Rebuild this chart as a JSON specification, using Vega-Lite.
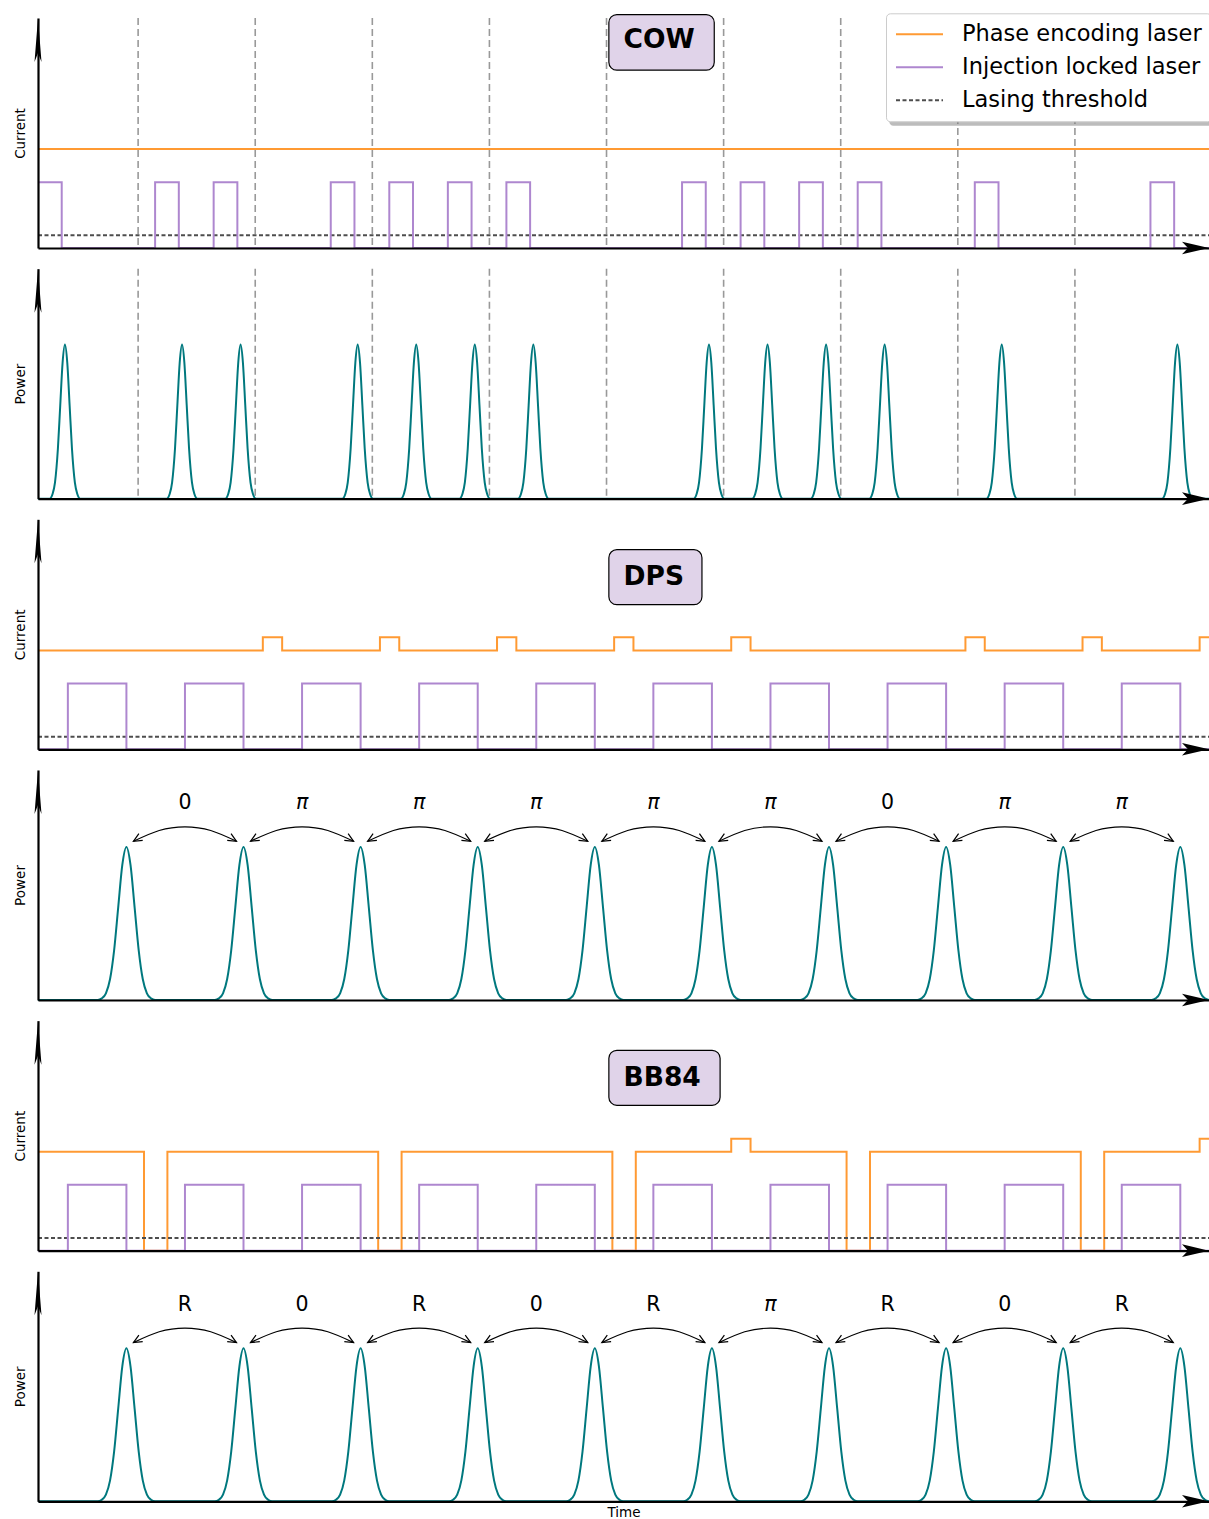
{
  "$schema": "https://vega.github.io/schema/vega-lite/v6.json",
  "padding": {"left": 13, "top": 12, "right": 0, "bottom": 0},
  "bounds": "flush",
  "spacing": 20.66,
  "config": {
    "view": {"stroke": null},
    "font": "DejaVu Sans",
    "axis": {"grid": false, "ticks": false, "labels": false, "domainColor": "black", "domainWidth": 2.2, "titleFont": "DejaVu Sans", "titleFontSize": 13.5, "titleFontWeight": "normal", "titleColor": "black", "titlePadding": 11, "zindex": 2},
    "axisX": {"titlePadding": 4}
  },
  "datasets": {
    "cow_dash": [{"t":1.71},{"t":3.71},{"t":5.71},{"t":7.71},{"t":9.71},{"t":11.71},{"t":13.71},{"t":15.71},{"t":17.71}],
    "cur_cow": [
      {"s":"Phase encoding laser","t":0,"v":0.43},{"s":"Phase encoding laser","t":20,"v":0.43},
      {"s":"Lasing threshold","t":0,"v":0.055},{"s":"Lasing threshold","t":20,"v":0.055},
      {"s":"Injection locked laser","t":0,"v":0.286},{"s":"Injection locked laser","t":0.405,"v":0},
      {"s":"Injection locked laser","t":2,"v":0.286},{"s":"Injection locked laser","t":2.405,"v":0},
      {"s":"Injection locked laser","t":3,"v":0.286},{"s":"Injection locked laser","t":3.405,"v":0},
      {"s":"Injection locked laser","t":5,"v":0.286},{"s":"Injection locked laser","t":5.405,"v":0},
      {"s":"Injection locked laser","t":6,"v":0.286},{"s":"Injection locked laser","t":6.405,"v":0},
      {"s":"Injection locked laser","t":7,"v":0.286},{"s":"Injection locked laser","t":7.405,"v":0},
      {"s":"Injection locked laser","t":8,"v":0.286},{"s":"Injection locked laser","t":8.405,"v":0},
      {"s":"Injection locked laser","t":11,"v":0.286},{"s":"Injection locked laser","t":11.405,"v":0},
      {"s":"Injection locked laser","t":12,"v":0.286},{"s":"Injection locked laser","t":12.405,"v":0},
      {"s":"Injection locked laser","t":13,"v":0.286},{"s":"Injection locked laser","t":13.405,"v":0},
      {"s":"Injection locked laser","t":14,"v":0.286},{"s":"Injection locked laser","t":14.405,"v":0},
      {"s":"Injection locked laser","t":16,"v":0.286},{"s":"Injection locked laser","t":16.405,"v":0},
      {"s":"Injection locked laser","t":19,"v":0.286},{"s":"Injection locked laser","t":19.405,"v":0},
      {"s":"Injection locked laser","t":20,"v":0}
    ],
    "cur_dps": [
      {"s":"Phase encoding laser","t":0,"v":0.43},{"s":"Phase encoding laser","t":3.84,"v":0.487},{"s":"Phase encoding laser","t":4.17,"v":0.43},
      {"s":"Phase encoding laser","t":5.84,"v":0.487},{"s":"Phase encoding laser","t":6.17,"v":0.43},
      {"s":"Phase encoding laser","t":7.84,"v":0.487},{"s":"Phase encoding laser","t":8.17,"v":0.43},
      {"s":"Phase encoding laser","t":9.84,"v":0.487},{"s":"Phase encoding laser","t":10.17,"v":0.43},
      {"s":"Phase encoding laser","t":11.84,"v":0.487},{"s":"Phase encoding laser","t":12.17,"v":0.43},
      {"s":"Phase encoding laser","t":15.84,"v":0.487},{"s":"Phase encoding laser","t":16.17,"v":0.43},
      {"s":"Phase encoding laser","t":17.84,"v":0.487},{"s":"Phase encoding laser","t":18.17,"v":0.43},
      {"s":"Phase encoding laser","t":19.84,"v":0.487},{"s":"Phase encoding laser","t":20,"v":0.487},
      {"s":"Lasing threshold","t":0,"v":0.055},{"s":"Lasing threshold","t":20,"v":0.055},
      {"s":"Injection locked laser","t":0,"v":0},
      {"s":"Injection locked laser","t":0.51,"v":0.286},{"s":"Injection locked laser","t":1.51,"v":0},
      {"s":"Injection locked laser","t":2.51,"v":0.286},{"s":"Injection locked laser","t":3.51,"v":0},
      {"s":"Injection locked laser","t":4.51,"v":0.286},{"s":"Injection locked laser","t":5.51,"v":0},
      {"s":"Injection locked laser","t":6.51,"v":0.286},{"s":"Injection locked laser","t":7.51,"v":0},
      {"s":"Injection locked laser","t":8.51,"v":0.286},{"s":"Injection locked laser","t":9.51,"v":0},
      {"s":"Injection locked laser","t":10.51,"v":0.286},{"s":"Injection locked laser","t":11.51,"v":0},
      {"s":"Injection locked laser","t":12.51,"v":0.286},{"s":"Injection locked laser","t":13.51,"v":0},
      {"s":"Injection locked laser","t":14.51,"v":0.286},{"s":"Injection locked laser","t":15.51,"v":0},
      {"s":"Injection locked laser","t":16.51,"v":0.286},{"s":"Injection locked laser","t":17.51,"v":0},
      {"s":"Injection locked laser","t":18.51,"v":0.286},{"s":"Injection locked laser","t":19.51,"v":0},
      {"s":"Injection locked laser","t":20,"v":0}
    ],
    "cur_bb": [
      {"s":"Phase encoding laser","t":0,"v":0.43},{"s":"Phase encoding laser","t":1.81,"v":0},{"s":"Phase encoding laser","t":2.21,"v":0.43},
      {"s":"Phase encoding laser","t":5.81,"v":0},{"s":"Phase encoding laser","t":6.21,"v":0.43},
      {"s":"Phase encoding laser","t":9.81,"v":0},{"s":"Phase encoding laser","t":10.21,"v":0.43},
      {"s":"Phase encoding laser","t":11.84,"v":0.487},{"s":"Phase encoding laser","t":12.17,"v":0.43},
      {"s":"Phase encoding laser","t":13.81,"v":0},{"s":"Phase encoding laser","t":14.21,"v":0.43},
      {"s":"Phase encoding laser","t":17.81,"v":0},{"s":"Phase encoding laser","t":18.21,"v":0.43},
      {"s":"Phase encoding laser","t":19.84,"v":0.487},{"s":"Phase encoding laser","t":20,"v":0.487},
      {"s":"Lasing threshold","t":0,"v":0.055},{"s":"Lasing threshold","t":20,"v":0.055},
      {"s":"Injection locked laser","t":0,"v":0},
      {"s":"Injection locked laser","t":0.51,"v":0.286},{"s":"Injection locked laser","t":1.51,"v":0},
      {"s":"Injection locked laser","t":2.51,"v":0.286},{"s":"Injection locked laser","t":3.51,"v":0},
      {"s":"Injection locked laser","t":4.51,"v":0.286},{"s":"Injection locked laser","t":5.51,"v":0},
      {"s":"Injection locked laser","t":6.51,"v":0.286},{"s":"Injection locked laser","t":7.51,"v":0},
      {"s":"Injection locked laser","t":8.51,"v":0.286},{"s":"Injection locked laser","t":9.51,"v":0},
      {"s":"Injection locked laser","t":10.51,"v":0.286},{"s":"Injection locked laser","t":11.51,"v":0},
      {"s":"Injection locked laser","t":12.51,"v":0.286},{"s":"Injection locked laser","t":13.51,"v":0},
      {"s":"Injection locked laser","t":14.51,"v":0.286},{"s":"Injection locked laser","t":15.51,"v":0},
      {"s":"Injection locked laser","t":16.51,"v":0.286},{"s":"Injection locked laser","t":17.51,"v":0},
      {"s":"Injection locked laser","t":18.51,"v":0.286},{"s":"Injection locked laser","t":19.51,"v":0},
      {"s":"Injection locked laser","t":20,"v":0}
    ],
    "cow_pow": [
      {"t":0,"v":0},
      {"t":0.2,"v":0},{"t":0.25,"v":0.021},{"t":0.29,"v":0.07},{"t":0.34,"v":0.218},{"t":0.38,"v":0.406},{"t":0.42,"v":0.591},{"t":0.46,"v":0.67},{"t":0.5,"v":0.591},{"t":0.54,"v":0.406},{"t":0.58,"v":0.218},{"t":0.63,"v":0.07},{"t":0.67,"v":0.021},{"t":0.72,"v":0},
      {"t":2.2,"v":0},{"t":2.25,"v":0.021},{"t":2.29,"v":0.07},{"t":2.34,"v":0.218},{"t":2.38,"v":0.406},{"t":2.42,"v":0.591},{"t":2.46,"v":0.67},{"t":2.5,"v":0.591},{"t":2.54,"v":0.406},{"t":2.58,"v":0.218},{"t":2.63,"v":0.07},{"t":2.67,"v":0.021},{"t":2.72,"v":0},
      {"t":3.2,"v":0},{"t":3.25,"v":0.021},{"t":3.29,"v":0.07},{"t":3.34,"v":0.218},{"t":3.38,"v":0.406},{"t":3.42,"v":0.591},{"t":3.46,"v":0.67},{"t":3.5,"v":0.591},{"t":3.54,"v":0.406},{"t":3.58,"v":0.218},{"t":3.63,"v":0.07},{"t":3.67,"v":0.021},{"t":3.72,"v":0},
      {"t":5.2,"v":0},{"t":5.25,"v":0.021},{"t":5.29,"v":0.07},{"t":5.34,"v":0.218},{"t":5.38,"v":0.406},{"t":5.42,"v":0.591},{"t":5.46,"v":0.67},{"t":5.5,"v":0.591},{"t":5.54,"v":0.406},{"t":5.58,"v":0.218},{"t":5.63,"v":0.07},{"t":5.67,"v":0.021},{"t":5.72,"v":0},
      {"t":6.2,"v":0},{"t":6.25,"v":0.021},{"t":6.29,"v":0.07},{"t":6.34,"v":0.218},{"t":6.38,"v":0.406},{"t":6.42,"v":0.591},{"t":6.46,"v":0.67},{"t":6.5,"v":0.591},{"t":6.54,"v":0.406},{"t":6.58,"v":0.218},{"t":6.63,"v":0.07},{"t":6.67,"v":0.021},{"t":6.72,"v":0},
      {"t":7.2,"v":0},{"t":7.25,"v":0.021},{"t":7.29,"v":0.07},{"t":7.34,"v":0.218},{"t":7.38,"v":0.406},{"t":7.42,"v":0.591},{"t":7.46,"v":0.67},{"t":7.5,"v":0.591},{"t":7.54,"v":0.406},{"t":7.58,"v":0.218},{"t":7.63,"v":0.07},{"t":7.67,"v":0.021},{"t":7.72,"v":0},
      {"t":8.2,"v":0},{"t":8.25,"v":0.021},{"t":8.29,"v":0.07},{"t":8.34,"v":0.218},{"t":8.38,"v":0.406},{"t":8.42,"v":0.591},{"t":8.46,"v":0.67},{"t":8.5,"v":0.591},{"t":8.54,"v":0.406},{"t":8.58,"v":0.218},{"t":8.63,"v":0.07},{"t":8.67,"v":0.021},{"t":8.72,"v":0},
      {"t":11.2,"v":0},{"t":11.25,"v":0.021},{"t":11.29,"v":0.07},{"t":11.34,"v":0.218},{"t":11.38,"v":0.406},{"t":11.42,"v":0.591},{"t":11.46,"v":0.67},{"t":11.5,"v":0.591},{"t":11.54,"v":0.406},{"t":11.58,"v":0.218},{"t":11.63,"v":0.07},{"t":11.67,"v":0.021},{"t":11.72,"v":0},
      {"t":12.2,"v":0},{"t":12.25,"v":0.021},{"t":12.29,"v":0.07},{"t":12.34,"v":0.218},{"t":12.38,"v":0.406},{"t":12.42,"v":0.591},{"t":12.46,"v":0.67},{"t":12.5,"v":0.591},{"t":12.54,"v":0.406},{"t":12.58,"v":0.218},{"t":12.63,"v":0.07},{"t":12.67,"v":0.021},{"t":12.72,"v":0},
      {"t":13.2,"v":0},{"t":13.25,"v":0.021},{"t":13.29,"v":0.07},{"t":13.34,"v":0.218},{"t":13.38,"v":0.406},{"t":13.42,"v":0.591},{"t":13.46,"v":0.67},{"t":13.5,"v":0.591},{"t":13.54,"v":0.406},{"t":13.58,"v":0.218},{"t":13.63,"v":0.07},{"t":13.67,"v":0.021},{"t":13.72,"v":0},
      {"t":14.2,"v":0},{"t":14.25,"v":0.021},{"t":14.29,"v":0.07},{"t":14.34,"v":0.218},{"t":14.38,"v":0.406},{"t":14.42,"v":0.591},{"t":14.46,"v":0.67},{"t":14.5,"v":0.591},{"t":14.54,"v":0.406},{"t":14.58,"v":0.218},{"t":14.63,"v":0.07},{"t":14.67,"v":0.021},{"t":14.72,"v":0},
      {"t":16.2,"v":0},{"t":16.25,"v":0.021},{"t":16.29,"v":0.07},{"t":16.34,"v":0.218},{"t":16.38,"v":0.406},{"t":16.42,"v":0.591},{"t":16.46,"v":0.67},{"t":16.5,"v":0.591},{"t":16.54,"v":0.406},{"t":16.58,"v":0.218},{"t":16.63,"v":0.07},{"t":16.67,"v":0.021},{"t":16.72,"v":0},
      {"t":19.2,"v":0},{"t":19.25,"v":0.021},{"t":19.29,"v":0.07},{"t":19.34,"v":0.218},{"t":19.38,"v":0.406},{"t":19.42,"v":0.591},{"t":19.46,"v":0.67},{"t":19.5,"v":0.591},{"t":19.54,"v":0.406},{"t":19.58,"v":0.218},{"t":19.63,"v":0.07},{"t":19.67,"v":0.021},{"t":19.72,"v":0},
      {"t":20,"v":0}
    ],
    "pow": [
      {"t":0,"v":0},
      {"t":1.02,"v":0},{"t":1.09,"v":0.007},{"t":1.16,"v":0.029},{"t":1.23,"v":0.09},{"t":1.3,"v":0.216},{"t":1.37,"v":0.403},{"t":1.44,"v":0.587},{"t":1.51,"v":0.665},{"t":1.58,"v":0.587},{"t":1.65,"v":0.403},{"t":1.72,"v":0.216},{"t":1.79,"v":0.09},{"t":1.86,"v":0.029},{"t":1.93,"v":0.007},{"t":2.0,"v":0},
      {"t":3.02,"v":0},{"t":3.09,"v":0.007},{"t":3.16,"v":0.029},{"t":3.23,"v":0.09},{"t":3.3,"v":0.216},{"t":3.37,"v":0.403},{"t":3.44,"v":0.587},{"t":3.51,"v":0.665},{"t":3.58,"v":0.587},{"t":3.65,"v":0.403},{"t":3.72,"v":0.216},{"t":3.79,"v":0.09},{"t":3.86,"v":0.029},{"t":3.93,"v":0.007},{"t":4.0,"v":0},
      {"t":5.02,"v":0},{"t":5.09,"v":0.007},{"t":5.16,"v":0.029},{"t":5.23,"v":0.09},{"t":5.3,"v":0.216},{"t":5.37,"v":0.403},{"t":5.44,"v":0.587},{"t":5.51,"v":0.665},{"t":5.58,"v":0.587},{"t":5.65,"v":0.403},{"t":5.72,"v":0.216},{"t":5.79,"v":0.09},{"t":5.86,"v":0.029},{"t":5.93,"v":0.007},{"t":6.0,"v":0},
      {"t":7.02,"v":0},{"t":7.09,"v":0.007},{"t":7.16,"v":0.029},{"t":7.23,"v":0.09},{"t":7.3,"v":0.216},{"t":7.37,"v":0.403},{"t":7.44,"v":0.587},{"t":7.51,"v":0.665},{"t":7.58,"v":0.587},{"t":7.65,"v":0.403},{"t":7.72,"v":0.216},{"t":7.79,"v":0.09},{"t":7.86,"v":0.029},{"t":7.93,"v":0.007},{"t":8.0,"v":0},
      {"t":9.02,"v":0},{"t":9.09,"v":0.007},{"t":9.16,"v":0.029},{"t":9.23,"v":0.09},{"t":9.3,"v":0.216},{"t":9.37,"v":0.403},{"t":9.44,"v":0.587},{"t":9.51,"v":0.665},{"t":9.58,"v":0.587},{"t":9.65,"v":0.403},{"t":9.72,"v":0.216},{"t":9.79,"v":0.09},{"t":9.86,"v":0.029},{"t":9.93,"v":0.007},{"t":10.0,"v":0},
      {"t":11.02,"v":0},{"t":11.09,"v":0.007},{"t":11.16,"v":0.029},{"t":11.23,"v":0.09},{"t":11.3,"v":0.216},{"t":11.37,"v":0.403},{"t":11.44,"v":0.587},{"t":11.51,"v":0.665},{"t":11.58,"v":0.587},{"t":11.65,"v":0.403},{"t":11.72,"v":0.216},{"t":11.79,"v":0.09},{"t":11.86,"v":0.029},{"t":11.93,"v":0.007},{"t":12.0,"v":0},
      {"t":13.02,"v":0},{"t":13.09,"v":0.007},{"t":13.16,"v":0.029},{"t":13.23,"v":0.09},{"t":13.3,"v":0.216},{"t":13.37,"v":0.403},{"t":13.44,"v":0.587},{"t":13.51,"v":0.665},{"t":13.58,"v":0.587},{"t":13.65,"v":0.403},{"t":13.72,"v":0.216},{"t":13.79,"v":0.09},{"t":13.86,"v":0.029},{"t":13.93,"v":0.007},{"t":14.0,"v":0},
      {"t":15.02,"v":0},{"t":15.09,"v":0.007},{"t":15.16,"v":0.029},{"t":15.23,"v":0.09},{"t":15.3,"v":0.216},{"t":15.37,"v":0.403},{"t":15.44,"v":0.587},{"t":15.51,"v":0.665},{"t":15.58,"v":0.587},{"t":15.65,"v":0.403},{"t":15.72,"v":0.216},{"t":15.79,"v":0.09},{"t":15.86,"v":0.029},{"t":15.93,"v":0.007},{"t":16.0,"v":0},
      {"t":17.02,"v":0},{"t":17.09,"v":0.007},{"t":17.16,"v":0.029},{"t":17.23,"v":0.09},{"t":17.3,"v":0.216},{"t":17.37,"v":0.403},{"t":17.44,"v":0.587},{"t":17.51,"v":0.665},{"t":17.58,"v":0.587},{"t":17.65,"v":0.403},{"t":17.72,"v":0.216},{"t":17.79,"v":0.09},{"t":17.86,"v":0.029},{"t":17.93,"v":0.007},{"t":18.0,"v":0},
      {"t":19.02,"v":0},{"t":19.09,"v":0.007},{"t":19.16,"v":0.029},{"t":19.23,"v":0.09},{"t":19.3,"v":0.216},{"t":19.37,"v":0.403},{"t":19.44,"v":0.587},{"t":19.51,"v":0.665},{"t":19.58,"v":0.587},{"t":19.65,"v":0.403},{"t":19.72,"v":0.216},{"t":19.79,"v":0.09},{"t":19.86,"v":0.029},{"t":19.93,"v":0.007},{"t":20.0,"v":0}
    ],
    "arcs": [
      {"a":0,"t":1.63,"v":0.69,"e":"l"},{"a":0,"t":2.07,"v":0.737,"e":"m"},{"a":0,"t":2.51,"v":0.753,"e":"m"},{"a":0,"t":2.95,"v":0.737,"e":"m"},{"a":0,"t":3.39,"v":0.69,"e":"r"},
      {"a":1,"t":3.63,"v":0.69,"e":"l"},{"a":1,"t":4.07,"v":0.737,"e":"m"},{"a":1,"t":4.51,"v":0.753,"e":"m"},{"a":1,"t":4.95,"v":0.737,"e":"m"},{"a":1,"t":5.39,"v":0.69,"e":"r"},
      {"a":2,"t":5.63,"v":0.69,"e":"l"},{"a":2,"t":6.07,"v":0.737,"e":"m"},{"a":2,"t":6.51,"v":0.753,"e":"m"},{"a":2,"t":6.95,"v":0.737,"e":"m"},{"a":2,"t":7.39,"v":0.69,"e":"r"},
      {"a":3,"t":7.63,"v":0.69,"e":"l"},{"a":3,"t":8.07,"v":0.737,"e":"m"},{"a":3,"t":8.51,"v":0.753,"e":"m"},{"a":3,"t":8.95,"v":0.737,"e":"m"},{"a":3,"t":9.39,"v":0.69,"e":"r"},
      {"a":4,"t":9.63,"v":0.69,"e":"l"},{"a":4,"t":10.07,"v":0.737,"e":"m"},{"a":4,"t":10.51,"v":0.753,"e":"m"},{"a":4,"t":10.95,"v":0.737,"e":"m"},{"a":4,"t":11.39,"v":0.69,"e":"r"},
      {"a":5,"t":11.63,"v":0.69,"e":"l"},{"a":5,"t":12.07,"v":0.737,"e":"m"},{"a":5,"t":12.51,"v":0.753,"e":"m"},{"a":5,"t":12.95,"v":0.737,"e":"m"},{"a":5,"t":13.39,"v":0.69,"e":"r"},
      {"a":6,"t":13.63,"v":0.69,"e":"l"},{"a":6,"t":14.07,"v":0.737,"e":"m"},{"a":6,"t":14.51,"v":0.753,"e":"m"},{"a":6,"t":14.95,"v":0.737,"e":"m"},{"a":6,"t":15.39,"v":0.69,"e":"r"},
      {"a":7,"t":15.63,"v":0.69,"e":"l"},{"a":7,"t":16.07,"v":0.737,"e":"m"},{"a":7,"t":16.51,"v":0.753,"e":"m"},{"a":7,"t":16.95,"v":0.737,"e":"m"},{"a":7,"t":17.39,"v":0.69,"e":"r"},
      {"a":8,"t":17.63,"v":0.69,"e":"l"},{"a":8,"t":18.07,"v":0.737,"e":"m"},{"a":8,"t":18.51,"v":0.753,"e":"m"},{"a":8,"t":18.95,"v":0.737,"e":"m"},{"a":8,"t":19.39,"v":0.69,"e":"r"}
    ],
    "labels": [
      {"t":2.51,"dps":"0","bb":"R"},{"t":4.51,"dps":"π","bb":"0"},{"t":6.51,"dps":"π","bb":"R"},
      {"t":8.51,"dps":"π","bb":"0"},{"t":10.51,"dps":"π","bb":"R"},{"t":12.51,"dps":"π","bb":"π"},
      {"t":14.51,"dps":"0","bb":"R"},{"t":16.51,"dps":"π","bb":"0"},{"t":18.51,"dps":"π","bb":"R"}
    ]
  },
  "vconcat": [
    {
      "width": 1171, "height": 230,
      "layer": [
        {"data": {"name": "cow_dash"}, "mark": {"type": "rule", "color": "#999999", "strokeWidth": 1.6, "strokeDash": [7, 4]},
         "encoding": {"x": {"field": "t", "type": "quantitative", "scale": {"domain": [0, 20], "nice": false}, "axis": {"title": null, "zindex": 2}}}},
        {"data": {"name": "cur_cow"}, "mark": {"type": "line", "interpolate": "step-after"},
         "encoding": {
           "x": {"field": "t", "type": "quantitative"},
           "y": {"field": "v", "type": "quantitative", "scale": {"domain": [0, 1], "nice": false}, "axis": {"title": "Current", "zindex": 2}},
           "color": {"field": "s", "type": "nominal", "scale": {"domain": ["Phase encoding laser", "Injection locked laser", "Lasing threshold"], "range": ["#ff9a33", "#ae87cf", "#4d4d4d"]},
             "legend": {"title": null, "orient": "none", "legendX": 848, "legendY": -4.7, "symbolType": "stroke", "symbolSize": 2209, "symbolStrokeWidth": 2, "clipHeight": 24, "labelFontSize": 22.5, "labelFont": "DejaVu Sans", "labelColor": "black", "labelOffset": 18, "labelLimit": 400, "rowPadding": 9, "padding": 9, "fillColor": "white", "strokeColor": "#cccccc", "cornerRadius": 4}},
           "strokeDash": {"field": "s", "type": "nominal", "scale": {"domain": ["Phase encoding laser", "Injection locked laser", "Lasing threshold"], "range": [[1, 0], [1, 0], [4, 2.5]]},
             "legend": {"title": null, "orient": "none", "legendX": 848, "legendY": -4.7, "symbolType": "stroke", "symbolSize": 2209, "symbolStrokeWidth": 2, "clipHeight": 24, "labelFontSize": 22.5, "labelFont": "DejaVu Sans", "labelColor": "black", "labelOffset": 18, "labelLimit": 400, "rowPadding": 9, "padding": 9, "fillColor": "white", "strokeColor": "#cccccc", "cornerRadius": 4}},
           "strokeWidth": {"field": "s", "type": "nominal", "scale": {"domain": ["Phase encoding laser", "Injection locked laser", "Lasing threshold"], "range": [2, 2, 1.2]}, "legend": null}
         }},
        {"data": {"values": [{"name": "COW"}]},
         "layer": [
           {"mark": {"type": "rect", "fill": "#e0d3e9", "stroke": "black", "strokeWidth": 1.2, "cornerRadius": 8},
            "encoding": {"x": {"datum": 9.75}, "x2": {"datum": 11.55}, "y": {"datum": 0.773}, "y2": {"datum": 1.015}}},
           {"mark": {"type": "text", "align": "left", "baseline": "middle", "fontSize": 26.5, "fontWeight": "bold", "font": "DejaVu Sans", "color": "black"},
            "encoding": {"x": {"datum": 10.0}, "y": {"datum": 0.904}, "text": {"field": "name"}}}
         ]},
        {"data": {"values": [{}]}, "mark": {"type": "rect", "fill": "#7a7a7a", "opacity": 0.5, "cornerRadius": 4},
         "encoding": {"x": {"datum": 14.54}, "x2": {"datum": 20.15}, "y": {"datum": 0.532}, "y2": {"datum": 1.0}}},
        {"data": {"values": [{}]}, "mark": {"type": "point", "shape": "M0,0L-0.35,4.4L0,3.5L0.35,4.4Z", "size": 400, "filled": true, "color": "black", "opacity": 1, "strokeWidth": 0},
         "encoding": {"x": {"datum": 0}, "y": {"datum": 1}}},
        {"data": {"values": [{}]}, "mark": {"type": "point", "shape": "M0,0L-2.7,-0.63L-2.1,0L-2.7,0.63Z", "size": 400, "filled": true, "color": "black", "opacity": 1, "strokeWidth": 0},
         "encoding": {"x": {"datum": 20}, "y": {"datum": 0}}}
      ]
    },
    {
      "width": 1171, "height": 230,
      "layer": [
        {"data": {"name": "cow_dash"}, "mark": {"type": "rule", "color": "#999999", "strokeWidth": 1.6, "strokeDash": [7, 4]},
         "encoding": {"x": {"field": "t", "type": "quantitative", "scale": {"domain": [0, 20], "nice": false}, "axis": {"title": null, "zindex": 2}}}},
        {"data": {"name": "cow_pow"}, "mark": {"type": "line", "interpolate": "monotone", "color": "#00787e", "strokeWidth": 2},
         "encoding": {"x": {"field": "t", "type": "quantitative"}, "y": {"field": "v", "type": "quantitative", "scale": {"domain": [0, 1], "nice": false}, "axis": {"title": "Power", "zindex": 2}}}},
        {"data": {"values": [{}]}, "mark": {"type": "point", "shape": "M0,0L-0.35,4.4L0,3.5L0.35,4.4Z", "size": 400, "filled": true, "color": "black", "opacity": 1, "strokeWidth": 0},
         "encoding": {"x": {"datum": 0}, "y": {"datum": 1}}},
        {"data": {"values": [{}]}, "mark": {"type": "point", "shape": "M0,0L-2.7,-0.63L-2.1,0L-2.7,0.63Z", "size": 400, "filled": true, "color": "black", "opacity": 1, "strokeWidth": 0},
         "encoding": {"x": {"datum": 20}, "y": {"datum": 0}}}
      ]
    },
    {
      "width": 1171, "height": 230,
      "layer": [
        {"data": {"name": "cur_dps"}, "mark": {"type": "line", "interpolate": "step-after"},
         "encoding": {
           "x": {"field": "t", "type": "quantitative", "scale": {"domain": [0, 20], "nice": false}, "axis": {"title": null, "zindex": 2}},
           "y": {"field": "v", "type": "quantitative", "scale": {"domain": [0, 1], "nice": false}, "axis": {"title": "Current", "zindex": 2}},
           "color": {"field": "s", "type": "nominal", "scale": {"domain": ["Phase encoding laser", "Injection locked laser", "Lasing threshold"], "range": ["#ff9a33", "#ae87cf", "#4d4d4d"]}, "legend": null},
           "strokeDash": {"field": "s", "type": "nominal", "scale": {"domain": ["Phase encoding laser", "Injection locked laser", "Lasing threshold"], "range": [[1, 0], [1, 0], [4, 2.5]]}, "legend": null},
           "strokeWidth": {"field": "s", "type": "nominal", "scale": {"domain": ["Phase encoding laser", "Injection locked laser", "Lasing threshold"], "range": [2, 2, 1.2]}, "legend": null}
         }},
        {"data": {"values": [{"name": "DPS"}]},
         "layer": [
           {"mark": {"type": "rect", "fill": "#e0d3e9", "stroke": "black", "strokeWidth": 1.2, "cornerRadius": 8},
            "encoding": {"x": {"datum": 9.75}, "x2": {"datum": 11.34}, "y": {"datum": 0.629}, "y2": {"datum": 0.868}}},
           {"mark": {"type": "text", "align": "left", "baseline": "middle", "fontSize": 26.5, "fontWeight": "bold", "font": "DejaVu Sans", "color": "black"},
            "encoding": {"x": {"datum": 10.0}, "y": {"datum": 0.749}, "text": {"field": "name"}}}
         ]},
        {"data": {"values": [{}]}, "mark": {"type": "point", "shape": "M0,0L-0.35,4.4L0,3.5L0.35,4.4Z", "size": 400, "filled": true, "color": "black", "opacity": 1, "strokeWidth": 0},
         "encoding": {"x": {"datum": 0}, "y": {"datum": 1}}},
        {"data": {"values": [{}]}, "mark": {"type": "point", "shape": "M0,0L-2.7,-0.63L-2.1,0L-2.7,0.63Z", "size": 400, "filled": true, "color": "black", "opacity": 1, "strokeWidth": 0},
         "encoding": {"x": {"datum": 20}, "y": {"datum": 0}}}
      ]
    },
    {
      "width": 1171, "height": 230,
      "layer": [
        {"data": {"name": "pow"}, "mark": {"type": "line", "interpolate": "monotone", "color": "#00787e", "strokeWidth": 2},
         "encoding": {"x": {"field": "t", "type": "quantitative", "scale": {"domain": [0, 20], "nice": false}, "axis": {"title": null, "zindex": 2}}, "y": {"field": "v", "type": "quantitative", "scale": {"domain": [0, 1], "nice": false}, "axis": {"title": "Power", "zindex": 2}}}},
        {"data": {"name": "arcs"}, "mark": {"type": "line", "interpolate": "natural", "color": "black", "strokeWidth": 1.2},
         "encoding": {"x": {"field": "t", "type": "quantitative"}, "y": {"field": "v", "type": "quantitative"}, "detail": {"field": "a", "type": "nominal"}}},
        {"data": {"name": "arcs"}, "transform": [{"filter": "datum.e == 'l'"}], "mark": {"type": "point", "shape": "M-1,-0.45L0,0L-1,0.45", "size": 289, "filled": false, "color": "black", "strokeWidth": 1.2, "opacity": 1, "angle": 150},
         "encoding": {"x": {"field": "t", "type": "quantitative"}, "y": {"field": "v", "type": "quantitative"}}},
        {"data": {"name": "arcs"}, "transform": [{"filter": "datum.e == 'r'"}], "mark": {"type": "point", "shape": "M-1,-0.45L0,0L-1,0.45", "size": 289, "filled": false, "color": "black", "strokeWidth": 1.2, "opacity": 1, "angle": 30},
         "encoding": {"x": {"field": "t", "type": "quantitative"}, "y": {"field": "v", "type": "quantitative"}}},
        {"data": {"name": "labels"}, "transform": [{"filter": "datum.dps != 'π'"}], "mark": {"type": "text", "fontSize": 20.5, "font": "DejaVu Sans", "color": "black", "baseline": "middle"},
         "encoding": {"x": {"field": "t", "type": "quantitative"}, "y": {"datum": 0.855}, "text": {"field": "dps"}}},
        {"data": {"name": "labels"}, "transform": [{"filter": "datum.dps == 'π'"}], "mark": {"type": "text", "fontSize": 20.5, "font": "DejaVu Sans", "fontStyle": "italic", "color": "black", "baseline": "middle"},
         "encoding": {"x": {"field": "t", "type": "quantitative"}, "y": {"datum": 0.855}, "text": {"field": "dps"}}},
        {"data": {"values": [{}]}, "mark": {"type": "point", "shape": "M0,0L-0.35,4.4L0,3.5L0.35,4.4Z", "size": 400, "filled": true, "color": "black", "opacity": 1, "strokeWidth": 0},
         "encoding": {"x": {"datum": 0}, "y": {"datum": 1}}},
        {"data": {"values": [{}]}, "mark": {"type": "point", "shape": "M0,0L-2.7,-0.63L-2.1,0L-2.7,0.63Z", "size": 400, "filled": true, "color": "black", "opacity": 1, "strokeWidth": 0},
         "encoding": {"x": {"datum": 20}, "y": {"datum": 0}}}
      ]
    },
    {
      "width": 1171, "height": 230,
      "layer": [
        {"data": {"name": "cur_bb"}, "mark": {"type": "line", "interpolate": "step-after"},
         "encoding": {
           "x": {"field": "t", "type": "quantitative", "scale": {"domain": [0, 20], "nice": false}, "axis": {"title": null, "zindex": 2}},
           "y": {"field": "v", "type": "quantitative", "scale": {"domain": [0, 1], "nice": false}, "axis": {"title": "Current", "zindex": 2}},
           "color": {"field": "s", "type": "nominal", "scale": {"domain": ["Phase encoding laser", "Injection locked laser", "Lasing threshold"], "range": ["#ff9a33", "#ae87cf", "#4d4d4d"]}, "legend": null},
           "strokeDash": {"field": "s", "type": "nominal", "scale": {"domain": ["Phase encoding laser", "Injection locked laser", "Lasing threshold"], "range": [[1, 0], [1, 0], [4, 2.5]]}, "legend": null},
           "strokeWidth": {"field": "s", "type": "nominal", "scale": {"domain": ["Phase encoding laser", "Injection locked laser", "Lasing threshold"], "range": [2, 2, 1.2]}, "legend": null}
         }},
        {"data": {"values": [{"name": "BB84"}]},
         "layer": [
           {"mark": {"type": "rect", "fill": "#e0d3e9", "stroke": "black", "strokeWidth": 1.2, "cornerRadius": 8},
            "encoding": {"x": {"datum": 9.75}, "x2": {"datum": 11.65}, "y": {"datum": 0.632}, "y2": {"datum": 0.871}}},
           {"mark": {"type": "text", "align": "left", "baseline": "middle", "fontSize": 26.5, "fontWeight": "bold", "font": "DejaVu Sans", "color": "black"},
            "encoding": {"x": {"datum": 10.0}, "y": {"datum": 0.751}, "text": {"field": "name"}}}
         ]},
        {"data": {"values": [{}]}, "mark": {"type": "point", "shape": "M0,0L-0.35,4.4L0,3.5L0.35,4.4Z", "size": 400, "filled": true, "color": "black", "opacity": 1, "strokeWidth": 0},
         "encoding": {"x": {"datum": 0}, "y": {"datum": 1}}},
        {"data": {"values": [{}]}, "mark": {"type": "point", "shape": "M0,0L-2.7,-0.63L-2.1,0L-2.7,0.63Z", "size": 400, "filled": true, "color": "black", "opacity": 1, "strokeWidth": 0},
         "encoding": {"x": {"datum": 20}, "y": {"datum": 0}}}
      ]
    },
    {
      "width": 1171, "height": 230,
      "layer": [
        {"data": {"name": "pow"}, "mark": {"type": "line", "interpolate": "monotone", "color": "#00787e", "strokeWidth": 2},
         "encoding": {"x": {"field": "t", "type": "quantitative", "scale": {"domain": [0, 20], "nice": false}, "axis": {"title": "Time", "zindex": 2}}, "y": {"field": "v", "type": "quantitative", "scale": {"domain": [0, 1], "nice": false}, "axis": {"title": "Power", "zindex": 2}}}},
        {"data": {"name": "arcs"}, "mark": {"type": "line", "interpolate": "natural", "color": "black", "strokeWidth": 1.2},
         "encoding": {"x": {"field": "t", "type": "quantitative"}, "y": {"field": "v", "type": "quantitative"}, "detail": {"field": "a", "type": "nominal"}}},
        {"data": {"name": "arcs"}, "transform": [{"filter": "datum.e == 'l'"}], "mark": {"type": "point", "shape": "M-1,-0.45L0,0L-1,0.45", "size": 289, "filled": false, "color": "black", "strokeWidth": 1.2, "opacity": 1, "angle": 150},
         "encoding": {"x": {"field": "t", "type": "quantitative"}, "y": {"field": "v", "type": "quantitative"}}},
        {"data": {"name": "arcs"}, "transform": [{"filter": "datum.e == 'r'"}], "mark": {"type": "point", "shape": "M-1,-0.45L0,0L-1,0.45", "size": 289, "filled": false, "color": "black", "strokeWidth": 1.2, "opacity": 1, "angle": 30},
         "encoding": {"x": {"field": "t", "type": "quantitative"}, "y": {"field": "v", "type": "quantitative"}}},
        {"data": {"name": "labels"}, "transform": [{"filter": "datum.bb != 'π'"}], "mark": {"type": "text", "fontSize": 20.5, "font": "DejaVu Sans", "color": "black", "baseline": "middle"},
         "encoding": {"x": {"field": "t", "type": "quantitative"}, "y": {"datum": 0.855}, "text": {"field": "bb"}}},
        {"data": {"name": "labels"}, "transform": [{"filter": "datum.bb == 'π'"}], "mark": {"type": "text", "fontSize": 20.5, "font": "DejaVu Sans", "fontStyle": "italic", "color": "black", "baseline": "middle"},
         "encoding": {"x": {"field": "t", "type": "quantitative"}, "y": {"datum": 0.855}, "text": {"field": "bb"}}},
        {"data": {"values": [{}]}, "mark": {"type": "point", "shape": "M0,0L-0.35,4.4L0,3.5L0.35,4.4Z", "size": 400, "filled": true, "color": "black", "opacity": 1, "strokeWidth": 0},
         "encoding": {"x": {"datum": 0}, "y": {"datum": 1}}},
        {"data": {"values": [{}]}, "mark": {"type": "point", "shape": "M0,0L-2.7,-0.63L-2.1,0L-2.7,0.63Z", "size": 400, "filled": true, "color": "black", "opacity": 1, "strokeWidth": 0},
         "encoding": {"x": {"datum": 20}, "y": {"datum": 0}}}
      ]
    }
  ],
  "resolve": {
    "scale": {"x": "independent", "y": "independent", "color": "independent", "strokeDash": "independent", "strokeWidth": "independent"},
    "legend": {"color": "independent", "strokeDash": "independent", "strokeWidth": "independent"}
  }
}
